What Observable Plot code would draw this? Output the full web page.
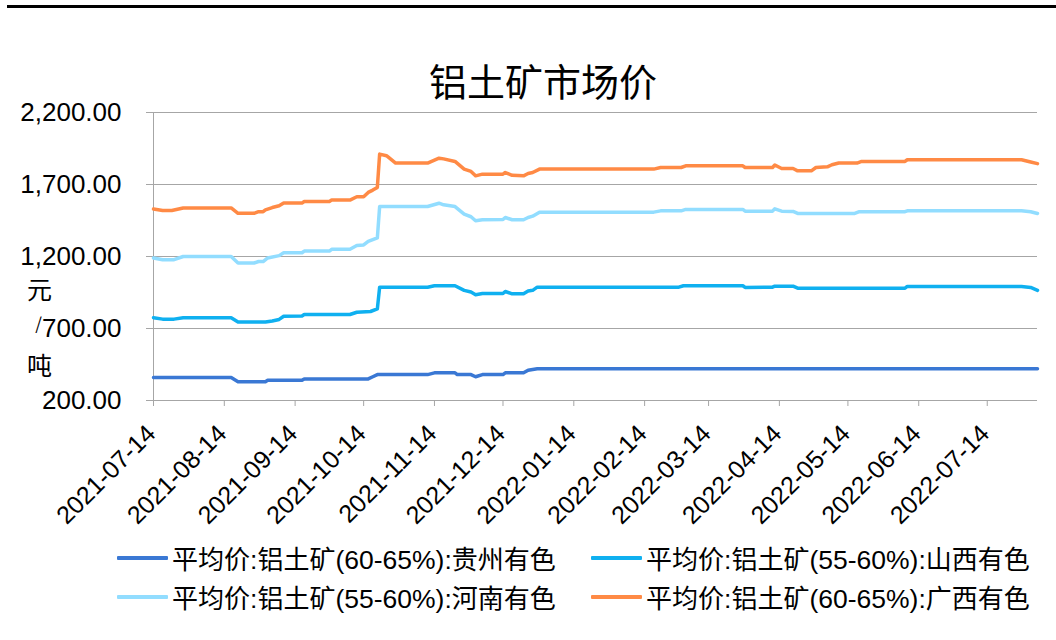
<!DOCTYPE html>
<html>
<head>
<meta charset="utf-8">
<script src="https://cdn.jsdelivr.net/npm/d3@7"></script>
<script src="https://cdn.jsdelivr.net/npm/@observablehq/plot@0.6"></script>
<style>
  body { margin: 0; background: #fff; }
  #wrap { position: relative; width: 1056px; height: 640px; overflow: hidden; background: #fff;
          font-family: "Liberation Sans", Arial, "Noto Sans CJK SC", sans-serif; color: #000; }
  #topline { position: absolute; left: 7px; top: 5px; width: 1049px; height: 2.5px; background: #000; }
  #title { position: absolute; left: 543px; top: 80px; transform: translate(-50%, -50%);
           font-family: "Noto Sans CJK SC", sans-serif; font-size: 38px; white-space: nowrap; line-height: 1; }
  #chart { position: absolute; left: 0; top: 0; }
  .ylab { position: absolute; transform: translate(-50%, -50%); font-family: "Noto Sans CJK SC", sans-serif;
          font-size: 25px; line-height: 1; }
  #legend { position: absolute; left: 117px; top: 538px; display: grid;
            grid-template-columns: 474px auto; grid-auto-rows: 39px; }
  .item { display: flex; align-items: center; white-space: nowrap; font-size: 26.5px; }
  .sw { width: 51px; height: 4px; margin-right: 4px; border-radius: 1px; }
  .cjk { font-family: "Noto Sans CJK SC", sans-serif; font-size: 26px; }
</style>
</head>
<body>
<div id="wrap">
  <div id="topline"></div>
  <div id="title"></div>
  <div id="chart"></div>
  <div id="ylabels"></div>
  <div id="legend"></div>
</div>
<script>
// ---------------- data ----------------
const titleText = "铝土矿市场价";
const yUnitChars = ["元", "/", "吨"];
const seriesNames = [
  "平均价:铝土矿(60-65%):贵州有色",
  "平均价:铝土矿(55-60%):山西有色",
  "平均价:铝土矿(55-60%):河南有色",
  "平均价:铝土矿(60-65%):广西有色"
];
const seriesColors = ["#3a78d4", "#0fb0f0", "#92ddff", "#ff8a45"];

const yTicks = [200, 700, 1200, 1700, 2200];
const yDomain = [200, 2200];
const xDomain = ["2021-07-14", "2022-08-05"];
const xTickDates = ["2021-07-14","2021-08-14","2021-09-14","2021-10-14","2021-11-14","2021-12-14",
                    "2022-01-14","2022-02-14","2022-03-14","2022-04-14","2022-05-14","2022-06-14","2022-07-14"];

// 贵州有色
const gzDates = ["2021-07-14","2021-08-17","2021-08-20","2021-09-01","2021-09-02","2021-09-17","2021-09-18",
  "2021-10-16","2021-10-18","2021-10-20","2021-11-11","2021-11-14","2021-11-23","2021-11-24","2021-11-30",
  "2021-12-02","2021-12-05","2021-12-14","2021-12-15","2021-12-23","2021-12-25","2021-12-29","2022-08-05"];
const gzValues = [360,360,330,330,340,340,350,
  350,365,380,380,392,392,380,380,
  365,380,380,392,392,410,420,420];

// 山西有色
const sxDates = ["2021-07-14","2021-07-18","2021-07-23","2021-07-27","2021-08-17","2021-08-20","2021-09-01",
  "2021-09-04","2021-09-07","2021-09-09","2021-09-17","2021-09-18","2021-10-08","2021-10-11","2021-10-17",
  "2021-10-20","2021-10-21","2021-11-11","2021-11-14","2021-11-23","2021-11-27","2021-11-30","2021-12-02",
  "2021-12-05","2021-12-14","2021-12-15","2021-12-18","2021-12-23","2021-12-25","2021-12-27","2021-12-29",
  "2022-03-01","2022-03-03","2022-03-29","2022-03-30","2022-04-11","2022-04-12","2022-04-20","2022-04-22",
  "2022-06-08","2022-06-09","2022-07-29","2022-08-02","2022-08-05"];
const sxValues = [775,765,765,775,775,745,745,
  752,763,785,787,797,797,813,818,
  836,987,987,997,997,965,953,935,
  943,943,957,941,941,960,965,987,
  987,997,997,985,987,994,994,980,
  980,992,992,985,965];

// 河南有色
const hnDates = ["2021-07-14","2021-07-18","2021-07-23","2021-07-27","2021-08-17","2021-08-20","2021-08-27",
  "2021-08-29","2021-08-31","2021-09-02","2021-09-07","2021-09-09","2021-09-17","2021-09-18","2021-09-29",
  "2021-09-30","2021-10-08","2021-10-11","2021-10-14","2021-10-16","2021-10-20","2021-10-21","2021-11-11",
  "2021-11-16","2021-11-18","2021-11-23","2021-11-27","2021-11-30","2021-12-02","2021-12-05","2021-12-14",
  "2021-12-15","2021-12-18","2021-12-23","2021-12-25","2021-12-27","2021-12-30","2022-02-18","2022-02-21",
  "2022-03-02","2022-03-04","2022-03-29","2022-03-30","2022-04-11","2022-04-12","2022-04-15","2022-04-20",
  "2022-04-22","2022-05-17","2022-05-19","2022-06-08","2022-06-09","2022-07-29","2022-08-02","2022-08-05"];
const hnValues = [1190,1178,1178,1200,1200,1155,1155,
  1165,1165,1190,1206,1226,1226,1238,1238,
  1250,1250,1276,1280,1305,1330,1547,1547,
  1570,1559,1547,1494,1476,1448,1455,1457,
  1471,1455,1455,1471,1480,1508,1508,1517,
  1517,1527,1527,1515,1515,1531,1515,1513,
  1499,1499,1511,1511,1517,1517,1511,1499];

// 广西有色
const gxDates = ["2021-07-14","2021-07-18","2021-07-22","2021-07-27","2021-08-17","2021-08-20","2021-08-27",
  "2021-08-29","2021-08-31","2021-09-01","2021-09-04","2021-09-07","2021-09-09","2021-09-17","2021-09-18",
  "2021-09-29","2021-09-30","2021-10-08","2021-10-11","2021-10-14","2021-10-16","2021-10-18","2021-10-20",
  "2021-10-21","2021-10-24","2021-10-28","2021-11-11","2021-11-16","2021-11-18","2021-11-23","2021-11-27",
  "2021-11-30","2021-12-02","2021-12-05","2021-12-14","2021-12-15","2021-12-18","2021-12-23","2021-12-25",
  "2021-12-27","2021-12-30","2022-02-18","2022-02-21","2022-03-02","2022-03-04","2022-03-29","2022-03-30",
  "2022-04-11","2022-04-12","2022-04-15","2022-04-20","2022-04-22","2022-04-28","2022-04-30","2022-05-05",
  "2022-05-07","2022-05-10","2022-05-18","2022-05-20","2022-06-08","2022-06-09","2022-07-29","2022-08-02",
  "2022-08-05"];
const gxValues = [1530,1520,1520,1537,1537,1500,1500,
  1511,1511,1524,1540,1552,1571,1571,1582,
  1582,1592,1592,1615,1615,1645,1661,1680,
  1911,1900,1849,1849,1883,1878,1860,1807,
  1791,1760,1772,1772,1783,1764,1760,1776,
  1783,1807,1807,1818,1818,1830,1830,1818,
  1818,1835,1811,1811,1795,1795,1818,1823,
  1837,1849,1849,1860,1860,1872,1872,1856,
  1845];

// ---------------- build ----------------
const toDate = s => new Date(s + "T00:00:00Z");
const seriesData = [[gzDates, gzValues], [sxDates, sxValues], [hnDates, hnValues], [gxDates, gxValues]];
const rows = seriesData.flatMap(([ds, vs], i) =>
  ds.map((d, j) => ({date: toDate(d), value: vs[j], series: seriesNames[i]})));
const xTicks = xTickDates.map(toDate);
const fmtDate = d3.utcFormat("%Y-%m-%d");
const grid = "#a6a6a6";

const chart = Plot.plot({
  width: 1056,
  height: 545,
  marginTop: 112,
  marginBottom: 145,
  marginLeft: 153,
  marginRight: 19,
  style: {fontFamily: '"Liberation Sans", Arial, sans-serif', fontSize: "26px", color: "#000",
          background: "transparent", overflow: "visible"},
  x: {type: "utc", domain: xDomain.map(toDate), axis: null},
  y: {domain: yDomain, axis: null},
  color: {domain: seriesNames, range: seriesColors},
  marks: [
    Plot.gridY(yTicks, {stroke: grid, strokeOpacity: 1, strokeWidth: 1}),
    Plot.axisY(yTicks, {tickFormat: d3.format(",.2f"), tickSize: 7, tickPadding: 25,
                        stroke: grid, fill: "#000", fontSize: 26, label: null}),
    Plot.ruleX([toDate(xDomain[0])], {stroke: grid, strokeWidth: 1}),
    Plot.ruleY([yDomain[0]], {stroke: grid, strokeWidth: 1}),
    Plot.axisX(xTicks, {tickSize: 6, tickFormat: () => "", stroke: grid, label: null}),
    Plot.text(xTicks, {x: d => d, text: d => fmtDate(d), frameAnchor: "bottom", rotate: -45,
                       textAnchor: "end", lineAnchor: "middle", dx: -2, dy: 29, fontSize: 25, fill: "#000"}),
    Plot.lineY(rows, {x: "date", y: "value", z: "series", stroke: "series", strokeWidth: 3.5,
                      strokeLinejoin: "round", strokeLinecap: "round"})
  ]
});
document.getElementById("chart").appendChild(chart);

document.getElementById("title").textContent = titleText;

const yPos = [[39.5, 288, 25], [38.5, 322, 17], [39.5, 364, 25]];
document.getElementById("ylabels").innerHTML = yUnitChars.map((c, i) =>
  `<span class="ylab" style="left:${yPos[i][0]}px;top:${yPos[i][1]}px;font-size:${yPos[i][2]}px">${c}</span>`).join("");

const rich = s => s.replace(/[\u3400-\u9fff]+/g, m => `<span class="cjk">${m}</span>`);
document.getElementById("legend").innerHTML = seriesNames.map((n, i) =>
  `<div class="item"><div class="sw" style="background:${seriesColors[i]}"></div><span>${rich(n)}</span></div>`).join("");
</script>
</body>
</html>
